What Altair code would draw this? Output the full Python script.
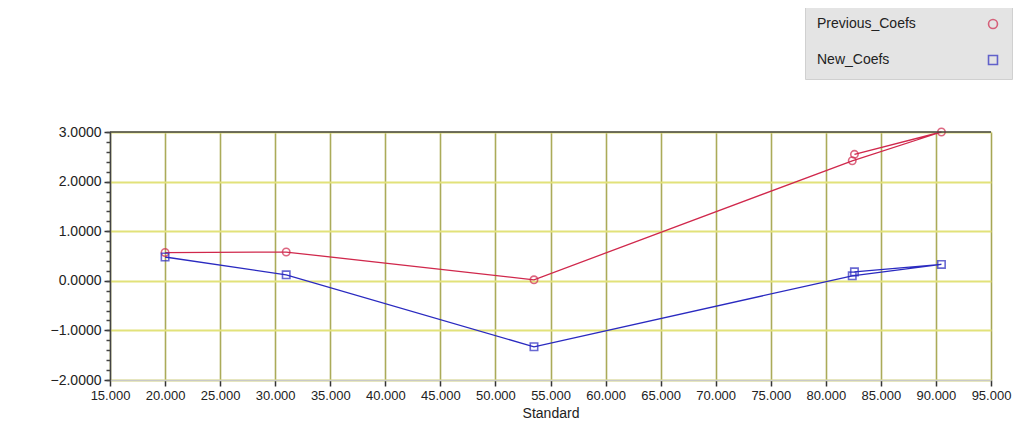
import altair as alt
import pandas as pd

# ---- data ----
series_names = ["Previous_Coefs", "New_Coefs"]
prev_x = [20.0, 31.0, 53.5, 82.4, 90.5, 82.6]
prev_y = [0.57, 0.58, 0.02, 2.42, 3.0, 2.55]
new_x = [20.0, 31.0, 53.5, 82.4, 90.5, 82.6]
new_y = [0.48, 0.12, -1.33, 0.10, 0.33, 0.18]

x_ticks = [15, 20, 25, 30, 35, 40, 45, 50, 55, 60, 65, 70, 75, 80, 85, 90, 95]
y_major = [-2, -1, 0, 1, 2, 3]
y_minor = [round(-2 + 0.2 * i, 1) for i in range(26)]

colors = ["#d0284c", "#2a2ac0"]
shapes = ["circle", "square"]

rows = []
for name, xs, ys in [(series_names[0], prev_x, prev_y), (series_names[1], new_x, new_y)]:
    for i, (xv, yv) in enumerate(zip(xs, ys)):
        rows.append({"series": name, "Standard": xv, "value": yv, "i": i})
df = pd.DataFrame(rows)

FONT = "Liberation Sans Narrow, Liberation Sans, Arial, sans-serif"

xscale = alt.Scale(domain=[15, 95], nice=False, zero=False)
yscale = alt.Scale(domain=[-2, 3], nice=False, zero=False)
cscale = alt.Scale(domain=series_names, range=colors)
sscale = alt.Scale(domain=series_names, range=shapes)

x_axis = alt.Axis(
    values=x_ticks, format=".3f", labelFont=FONT, labelFontSize=13, labelColor="#222",
    labelOverlap=False, labelFlush=False, labelPadding=3, tickSize=6, tickColor="#333",
    tickWidth=1.5, domainColor="#c8c8c8", domainWidth=1.5,
    grid=True, gridColor="#9c9c3c", gridWidth=1.6, gridOpacity=0.85,
    title="Standard", titleFont=FONT, titleFontSize=14, titleFontWeight="normal",
    titleColor="#222", titlePadding=4,
)
y_axis = alt.Axis(
    values=y_major, format=".4f", orient="left",
    labelFont=FONT, labelFontSize=14, labelColor="#222", labelPadding=3,
    labelOverlap=False, labelFlush=False,
    tickSize=6, tickColor="#333", tickWidth=1.5,
    domainColor="#444", domainWidth=1.5,
    grid=True, gridColor="#e2e27a", gridWidth=2,
    title=None,
)
y_minor_axis = alt.Axis(
    values=y_minor, orient="left", labels=False, grid=False, domain=False,
    tickSize=4, tickColor="#444", tickWidth=1.5, title=None,
)

legend = alt.Legend(
    title=None, orient="none", legendX=695, legendY=-126,
    fillColor="#e4e4e4", strokeColor="#d0d0d0", padding=11,
    labelFont=FONT, labelFontSize=14, labelColor="#222", labelLimit=200,
    symbolOffset=170, labelOffset={"expr": "-183"}, rowPadding=20, symbolSize=80,
    symbolStrokeWidth=1.6,
)

base = alt.Chart(df)

lines = base.mark_line(strokeWidth=1.3).encode(
    x=alt.X("Standard:Q", scale=xscale, axis=x_axis),
    y=alt.Y("value:Q", scale=yscale, axis=y_axis),
    color=alt.Color("series:N", scale=cscale, legend=legend),
    detail="series:N",
    order="i:Q",
)

points = base.mark_point(filled=False, size=55, strokeWidth=1.6).encode(
    x=alt.X("Standard:Q", scale=xscale),
    y=alt.Y("value:Q", scale=yscale, axis=y_minor_axis),
    color=alt.Color("series:N", scale=cscale, legend=legend),
    shape=alt.Shape("series:N", scale=sscale, legend=legend),
)

top_border = alt.Chart(pd.DataFrame({"v": [3]})).mark_rule(color="#444", strokeWidth=1.5).encode(
    y=alt.Y("v:Q", scale=yscale, axis=None)
)

chart = alt.layer(lines, points, top_border).resolve_axis(y="independent").properties(
    width=881, height=248,
    autosize=alt.AutoSizeParams(type="none"),
    padding={"left": 102, "top": 124, "right": 22, "bottom": 54},
).configure_view(stroke="#c8c8c8", strokeWidth=1.5).configure(background="white")

chart.save("out.html", embed_options={"renderer": "svg", "actions": False})
